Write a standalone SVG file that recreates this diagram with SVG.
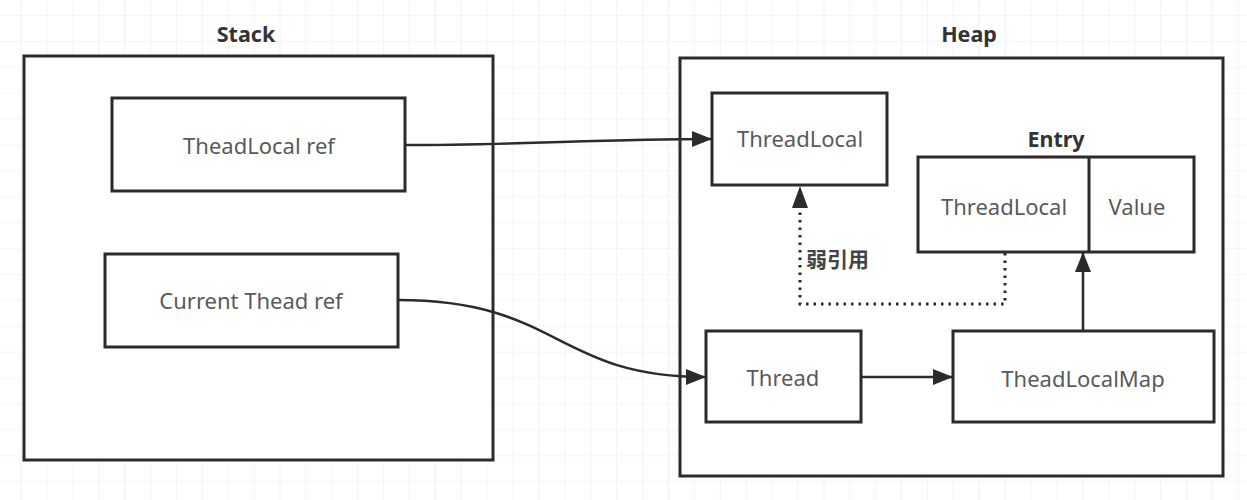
<svg xmlns="http://www.w3.org/2000/svg" width="1247" height="500" viewBox="0 0 1247 500">
<style>
.box{fill:#fff;stroke:#2b2b2b;stroke-width:3}
.lbl{font-family:"Noto Sans","Noto Sans CJK SC",sans-serif;font-size:22px;fill:#5a5a5a;text-anchor:middle;dominant-baseline:central}
.ttl{font-family:"Noto Sans","Noto Sans CJK SC",sans-serif;font-size:21.5px;font-weight:bold;fill:#333;text-anchor:middle;dominant-baseline:central}
.edge{fill:none;stroke:#2b2b2b;stroke-width:2.5}
.dot{fill:none;stroke:#2b2b2b;stroke-width:3;stroke-dasharray:2.5 5}
</style>
<defs>
<pattern id="grid" x="20.5" y="15" width="25.9" height="25.9" patternUnits="userSpaceOnUse">
<path d="M0 0H25.9M0 0V25.9" fill="none" stroke="#ebebeb" stroke-width="1.2"/>
</pattern>
<marker id="arr" viewBox="0 0 20 16" refX="19" refY="8" markerWidth="20" markerHeight="16" markerUnits="userSpaceOnUse" orient="auto">
<path d="M0 0L20 8L0 16Z" fill="#2b2b2b"/>
</marker>
</defs>
<rect width="1247" height="500" fill="#fff"/>
<rect width="1247" height="500" fill="url(#grid)"/>

<g id="stack">
<text class="ttl" x="246" y="33">Stack</text>
<rect class="box" x="24" y="56" width="469" height="404"/>
</g>
<g id="heap">
<text class="ttl" x="969" y="33">Heap</text>
<rect class="box" x="680" y="58" width="543" height="418"/>
</g>
<g id="threadlocal-ref">
<rect class="box" x="112" y="98" width="293" height="93"/>
<text class="lbl" x="259" y="145">TheadLocal ref</text>
</g>
<g id="current-thread-ref">
<rect class="box" x="105" y="254" width="293" height="93"/>
<text class="lbl" x="251" y="300">Current Thead ref</text>
</g>
<g id="threadlocal">
<rect class="box" x="712" y="93" width="175" height="92"/>
<text class="lbl" x="800" y="138">ThreadLocal</text>
</g>
<g id="entry">
<text class="ttl" x="1056" y="138">Entry</text>
<rect class="box" x="918" y="157" width="276" height="95"/>
<line x1="1089" y1="157" x2="1089" y2="252" stroke="#2b2b2b" stroke-width="3"/>
<text class="lbl" x="1004" y="206">ThreadLocal</text>
<text class="lbl" x="1137" y="206">Value</text>
</g>
<g id="thread">
<rect class="box" x="706" y="331" width="155" height="91"/>
<text class="lbl" x="783" y="377">Thread</text>
</g>
<g id="threadlocalmap">
<rect class="box" x="953" y="331" width="261" height="91"/>
<text class="lbl" x="1083" y="378">TheadLocalMap</text>
</g>

<g id="connectors">
<path class="edge" d="M405 145C520 145 600 139 711 139" marker-end="url(#arr)"/>
<path class="edge" d="M398 300C560 300 555 377 705 377" marker-end="url(#arr)"/>
<path class="edge" d="M861 377H952" marker-end="url(#arr)"/>
<path class="edge" d="M1083 331V253" marker-end="url(#arr)"/>
<path class="dot" d="M1005 253V304H800V208"/>
<path d="M792 208L800 186L808 208Z" fill="#2b2b2b"/>
<text x="806" y="258" font-family="'Noto Sans CJK SC',sans-serif" font-size="21" font-weight="bold" fill="#444" dominant-baseline="central">弱引用</text>
</g>
</svg>
